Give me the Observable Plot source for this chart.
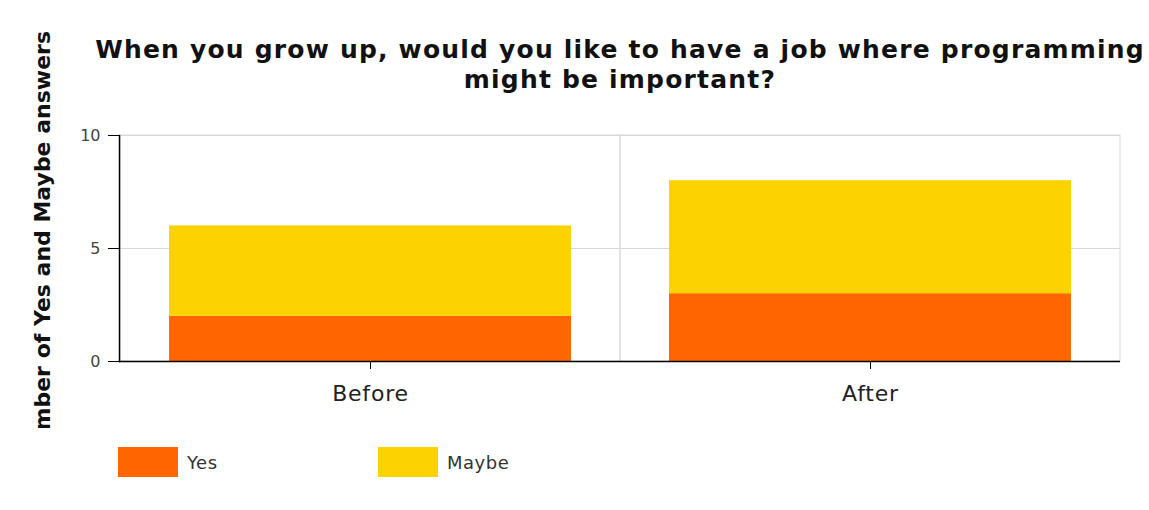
<!DOCTYPE html>
<html>
<head>
<meta charset="utf-8">
<script src="https://cdn.jsdelivr.net/npm/d3@7"></script>
<script src="https://cdn.jsdelivr.net/npm/@observablehq/plot@0.6"></script>
<style>
  html, body { margin: 0; padding: 0; background: #fff; }
  #wrap { position: relative; width: 1149px; height: 510px; overflow: hidden; background: #fff; font-family: "DejaVu Sans", Verdana, sans-serif; }
  #title { position: absolute; left: 70px; top: 35px; width: 1100px; text-align: center; font-weight: bold; font-size: 25px; letter-spacing: 1.2px; line-height: 30px; color: #111; }
  #ylabclip { position: absolute; left: 0; top: 0; width: 80px; height: 428px; overflow: hidden; }
  #ylab { position: absolute; left: 30px; top: 31px; width: 26px; line-height: 26px; writing-mode: vertical-rl; transform: rotate(180deg); white-space: nowrap; font-weight: bold; font-size: 22px; color: #111; }
  #chart { position: absolute; left: 0; top: 110px; }
  #legend { position: absolute; left: 118px; top: 447px; display: flex; font-size: 18px; letter-spacing: 0.5px; color: #333; }
  .item { display: flex; align-items: center; width: 260px; }
  .sw { width: 60px; height: 30px; margin-right: 9px; }
  #chart svg g[aria-label="x-axis tick label"] text { letter-spacing: 0.8px; }
</style>
</head>
<body>
<div id="wrap">
  <div id="title">When you grow up, would you like to have a job where programming<br>might be important?</div>
  <div id="ylabclip"><div id="ylab">Number of Yes and Maybe answers</div></div>
  <div id="chart"></div>
  <div id="legend"></div>
</div>
<script>
const categories = ["Before", "After"];
const yesValues = [2, 3];
const maybeValues = [4, 5];
const seriesNames = ["Yes", "Maybe"];
const seriesColors = ["#FF6600", "#FCD200"];
const yTicks = [0, 5, 10];
const yDomain = [0, 10];

const data = categories.flatMap((c, i) => [
  {category: c, series: seriesNames[0], value: yesValues[i]},
  {category: c, series: seriesNames[1], value: maybeValues[i]}
]);

const chart = Plot.plot({
  width: 1149,
  height: 301,
  marginTop: 25,
  marginBottom: 50,
  marginLeft: 119,
  marginRight: 29,
  x: {domain: categories, type: "band", padding: 0, label: null},
  y: {domain: yDomain, label: null},
  color: {domain: seriesNames, range: seriesColors},
  style: {fontFamily: "DejaVu Sans, Verdana, sans-serif", background: "transparent", overflow: "visible"},
  marks: [
    Plot.gridY(yTicks, {stroke: "#d8d8d8", strokeOpacity: 1}),
    Plot.barY(categories, {x: d => d, y1: () => yDomain[0], y2: () => yDomain[1], fill: "none", stroke: "#d8d8d8"}),
    Plot.barY(data, Plot.stackY({x: "category", y: "value", fill: "series", order: seriesNames, insetLeft: 49, insetRight: 49})),
    Plot.ruleY([yDomain[0]], {stroke: "#000", strokeWidth: 1.5}),
    Plot.frame({anchor: "left", stroke: "#000", strokeWidth: 1.5}),
    Plot.axisY(yTicks, {tickSize: 11, tickPadding: 8, fontSize: 16, stroke: "#000", fill: "#444", label: null}),
    Plot.axisX({tickSize: 8, tickPadding: 16, fontSize: 22, stroke: "#000", fill: "#222", label: null})
  ]
});
document.getElementById("chart").appendChild(chart);

const legend = document.getElementById("legend");
seriesNames.forEach((name, i) => {
  const item = document.createElement("div");
  item.className = "item";
  const sw = document.createElement("div");
  sw.className = "sw";
  sw.style.background = seriesColors[i];
  const t = document.createElement("span");
  t.textContent = name;
  item.appendChild(sw);
  item.appendChild(t);
  legend.appendChild(item);
});
</script>
</body>
</html>
